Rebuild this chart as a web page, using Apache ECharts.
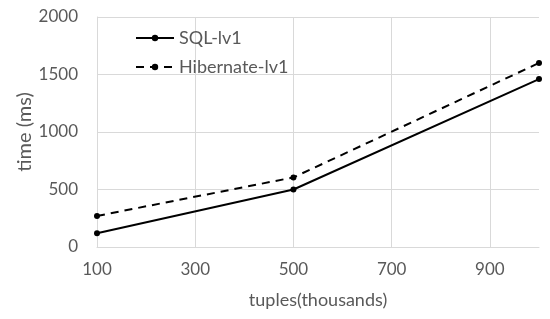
<!DOCTYPE html>
<html>
<head>
<meta charset="utf-8">
<script src="https://cdn.jsdelivr.net/npm/echarts@6/dist/echarts.min.js"></script>
<style>
  html, body { margin: 0; padding: 0; background: #fff; }
  #main { width: 550px; height: 319px; }
</style>
</head>
<body>
<div id="main"></div>
<script>
// x values (thousands of tuples)
const tuples = [100, 500, 1000];
const sqlLv1 = [120, 500, 1460];
const hibernateLv1 = [270, 605, 1600];

const font = 'Lato, "Open Sans", sans-serif';
const grey = '#595959';

const chart = echarts.init(document.getElementById('main'));
chart.setOption({
    animation: false,
    grid: { left: 97, right: 11, top: 17, bottom: 72 },
    legend: {
        left: 130,
        top: 24,
        orient: 'vertical',
        itemWidth: 38,
        itemHeight: 8,
        itemGap: 11,
        textStyle: { color: grey, fontSize: 18, fontFamily: font },
        data: ['SQL-lv1', 'Hibernate-lv1']
    },
    xAxis: {
        type: 'value',
        min: 100,
        max: 1000,
        interval: 200,
        name: 'tuples(thousands)',
        nameLocation: 'middle',
        nameGap: 44,
        nameTextStyle: { color: grey, fontSize: 18, fontFamily: font },
        axisLine: { show: true, lineStyle: { color: '#d9d9d9', width: 1 } },
        axisTick: { show: false },
        axisLabel: {
            color: grey, fontSize: 17, fontFamily: font, margin: 14,
            showMaxLabel: false
        },
        splitLine: { show: true, showMaxLine: false, lineStyle: { color: '#d9d9d9' } }
    },
    yAxis: {
        type: 'value',
        min: 0,
        max: 2000,
        interval: 500,
        name: 'time (ms)',
        nameLocation: 'middle',
        nameGap: 62,
        nameMoveOverlap: false,
        nameTextStyle: { color: grey, fontSize: 20, fontFamily: font },
        axisLine: { show: true, lineStyle: { color: '#d9d9d9', width: 1 } },
        axisTick: { show: false },
        axisLabel: {
            color: grey, fontSize: 17, fontFamily: font, margin: 19,
            formatter: v => String(v)
        },
        splitLine: { show: true, lineStyle: { color: '#d9d9d9' } }
    },
    series: [
        {
            name: 'SQL-lv1',
            type: 'line',
            data: tuples.map((x, i) => [x, sqlLv1[i]]),
            symbol: 'circle',
            symbolSize: 6,
            itemStyle: { color: '#000' },
            lineStyle: { color: '#000', width: 2 }
        },
        {
            name: 'Hibernate-lv1',
            type: 'line',
            data: tuples.map((x, i) => [x, hibernateLv1[i]]),
            symbol: 'circle',
            symbolSize: 6,
            itemStyle: { color: '#000' },
            lineStyle: { color: '#000', width: 2, type: [8, 6] }
        }
    ]
});
</script>
</body>
</html>
